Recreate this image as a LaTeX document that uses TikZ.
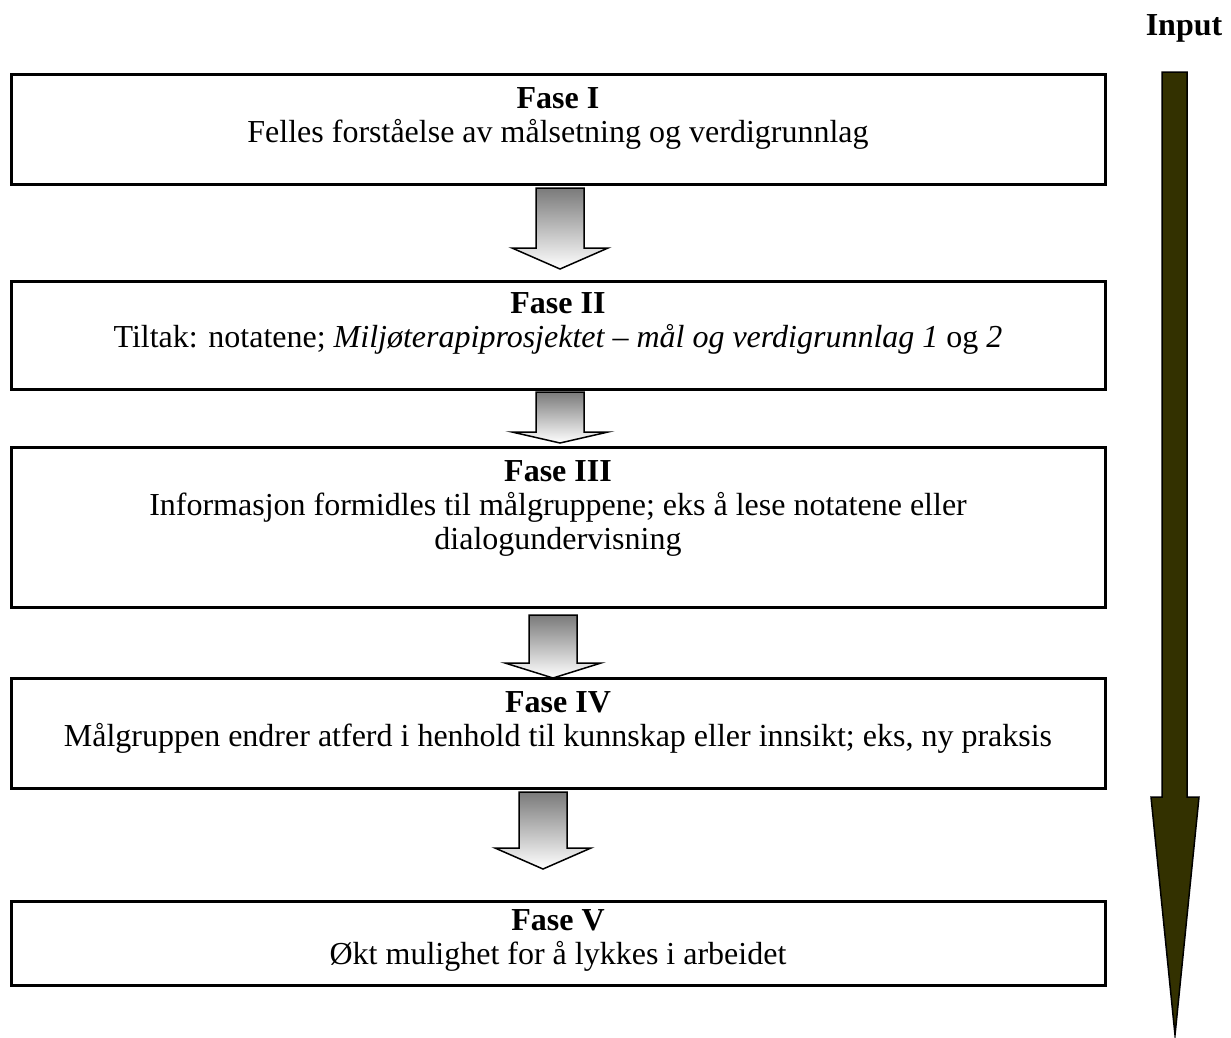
\documentclass[tikz,border=0pt]{standalone}
\usepackage{fontspec}
\setmainfont{Liberation Serif}
\usepackage{tikz}
\usetikzlibrary{positioning}
\definecolor{inputolive}{RGB}{51,49,0}
\tikzset{phase box/.style={draw, line width=3pt, minimum width=1094pt, inner sep=0pt}}
\tikzset{phase text/.style={align=center, inner sep=0pt, font=\fontsize{32}{34}\selectfont}}
\tikzset{phase arrow/.style={draw, line width=1.5pt, line join=miter, top color=black!52, bottom color=white}}
\tikzset{input arrow/.style={draw, line width=1.5pt, fill=inputolive}}
\newcommand{\phasearrow}[4]{\draw[phase arrow] (#1-24,#2) -- (#1+24,#2) -- (#1+24,#3) -- (#1+48,#3) -- (#1,#4) -- (#1-48,#3) -- (#1-24,#3) -- cycle;}

\begin{document}
\begin{tikzpicture}[x=1pt, y=-1pt]
            \useasboundingbox (0,0) rectangle (1231,1037);
            \node[phase box, minimum height=110pt] (f1) at (558,129) {};
            \node[phase box, minimum height=108pt] (f2) at (558,335) {};
            \node[phase box, minimum height=160pt] (f3) at (558,527) {};
            \node[phase box, minimum height=110pt] (f4) at (558,733) {};
            \node[phase box, minimum height=84pt] (f5) at (558,943) {};
            \node[phase text, below=15pt of f1.north] (t1) {\textbf{Fase I}\\Felles forståelse av målsetning og verdigrunnlag};
            \node[phase text, below=13pt of f2.north] (t2) {\textbf{Fase II}\\Tiltak: notatene; \textit{Miljøterapiprosjektet – mål og verdigrunnlag 1} og \textit{2}};
            \node[phase text, below=15pt of f3.north] (t3) {\textbf{Fase III}\\Informasjon formidles til målgruppene; eks å lese notatene eller\\dialogundervisning};
            \node[phase text, below=15pt of f4.north] (t4) {\textbf{Fase IV}\\Målgruppen endrer atferd i henhold til kunnskap eller innsikt; eks, ny praksis};
            \node[phase text, below=10pt of f5.north] (t5) {\textbf{Fase V}\\Økt mulighet for å lykkes i arbeidet};
            % arrows between the phases
            \phasearrow{560}{188}{248}{269}
            \phasearrow{560}{392}{432}{443}
            \phasearrow{553}{615}{663}{678}
            \phasearrow{543}{792}{848}{869}
            % input
            \node[phase text, font=\fontsize{32}{34}\selectfont\bfseries] (input) at (1184,28) {Input};
            \draw[input arrow] (1162,72) -- (1187,72) -- (1187,797) -- (1199,797) -- (1175,1035) -- (1151,797) -- (1162,797) -- cycle;
        \end{tikzpicture}
\end{document}
